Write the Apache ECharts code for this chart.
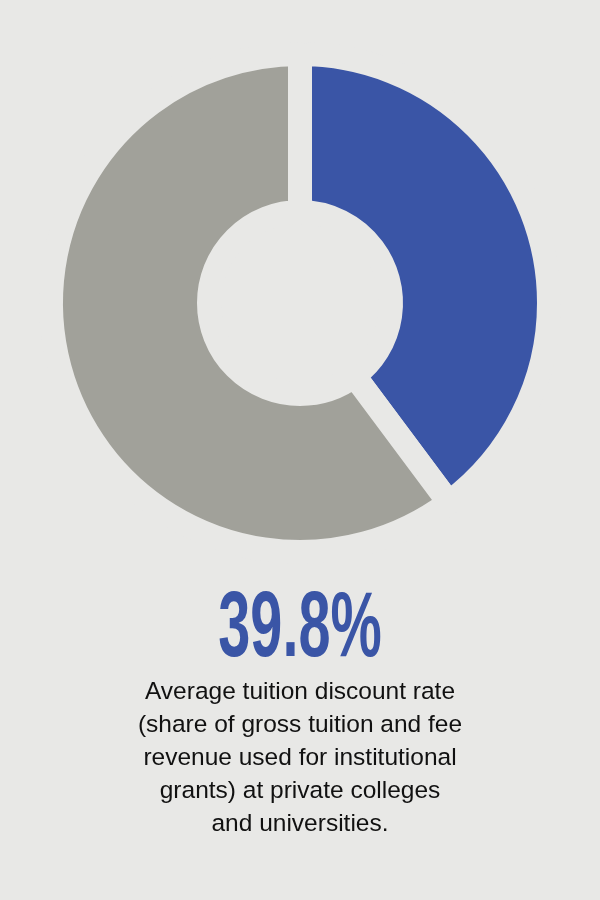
<!DOCTYPE html>
<html>
<head>
<meta charset="utf-8">
<script src="https://cdn.jsdelivr.net/npm/echarts@6/dist/echarts.min.js"></script>
<style>
html,body{margin:0;padding:0;background:#e8e8e6;}
#c{width:600px;height:900px;}
</style>
</head>
<body>
<div id="c"></div>
<script>
const categories = ['Institutional grants (discount)', 'Remaining net tuition revenue'];
const values = [39.8, 60.2];
const headline = '39.8%';
const captionLines = [
  'Average tuition discount rate',
  '(share of gross tuition and fee',
  'revenue used for institutional',
  'grants) at private colleges',
  'and universities.'
];

const bg = '#e8e8e6';
const colors = ['#3a55a6', '#a1a19a'];

const chart = echarts.init(document.getElementById('c'), null, {renderer: 'canvas'});
chart.setOption({
  backgroundColor: bg,
  animation: false,
  series: [{
    type: 'pie',
    center: [300, 303],
    radius: [91, 249],
    startAngle: 90,
    clockwise: true,
    label: {show: false},
    labelLine: {show: false},
    emphasis: {disabled: true},
    itemStyle: {borderColor: bg, borderWidth: 24},
    data: categories.map((n, i) => ({name: n, value: values[i], itemStyle: {color: colors[i]}}))
  }],
  graphic: [
    {
      type: 'text',
      x: 300, y: 630,
      scaleX: 0.62, scaleY: 1,
      style: {
        text: headline,
        x: 0, y: 0,
        align: 'center',
        verticalAlign: 'middle',
        fill: '#3a55a6',
        font: 'bold 93px "Liberation Sans", Arial, sans-serif'
      }
    },
    {
      type: 'text',
      x: 300, y: 676,
      style: {
        text: captionLines.join('\n'),
        x: 0, y: 0,
        align: 'center',
        verticalAlign: 'top',
        fill: '#111111',
        lineHeight: 33,
        font: '24.5px "Liberation Sans", Arial, sans-serif'
      }
    }
  ]
});
</script>
</body>
</html>
